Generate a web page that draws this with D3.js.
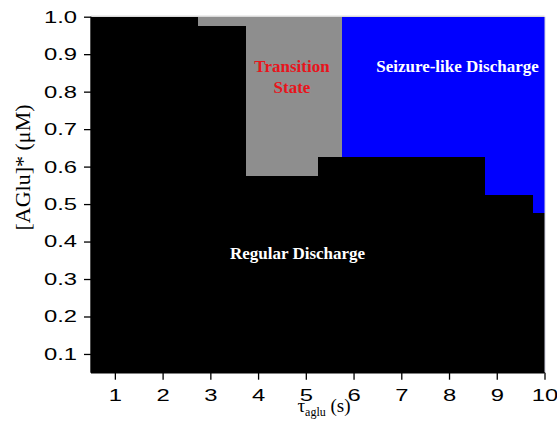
<!DOCTYPE html>
<html>
<head>
<meta charset="utf-8">
<script src="https://cdn.jsdelivr.net/npm/d3@7"></script>
<style>
  body { margin: 0; background: #fff; }
  svg { display: block; }
</style>
</head>
<body>
<div id="chart"></div>
<script>
// tau_aglu values (s), one column of the phase grid each
var tau = [0.5, 1, 1.5, 2, 2.5, 3, 3.5, 4, 4.5, 5, 5.5, 6, 6.5, 7, 7.5, 8, 8.5, 9, 9.5, 10];
// upper limit of regular discharge for each column ([AGlu]*, uM)
var regularTop = [1, 1, 1, 1, 1, 0.975, 0.975, 0.575, 0.575, 0.575, 0.625,
                  0.625, 0.625, 0.625, 0.625, 0.625, 0.625, 0.525, 0.525, 0.475];
// state found above that limit
var upperState = ["none", "none", "none", "none", "none", "transition", "transition",
                  "transition", "transition", "transition", "transition",
                  "seizure", "seizure", "seizure", "seizure", "seizure", "seizure",
                  "seizure", "seizure", "seizure"];
var xTicks = [1, 2, 3, 4, 5, 6, 7, 8, 9, 10];
var yTicks = [0.1, 0.2, 0.3, 0.4, 0.5, 0.6, 0.7, 0.8, 0.9, 1.0];

var width = 557, height = 437;
var svg = d3.select("#chart").append("svg")
    .attr("width", width)
    .attr("height", height);

var x = d3.scaleLinear().domain([0.5, 10]).range([91, 544.5]);
var y = d3.scaleLinear().domain([0.05, 1.0]).range([372.7, 16.7]);

var colors = { regular: "#000000", transition: "#8e8e8e", seizure: "#0000ff" };

var cells = tau.map(function(t, i) {
    return { x0: Math.max(t - 0.25, 0.5), x1: Math.min(t + 0.25, 10),
             top: regularTop[i], state: upperState[i] };
});

var plot = svg.append("g").attr("shape-rendering", "crispEdges");

// regular discharge part
plot.selectAll("rect.reg").data(cells).enter().append("rect")
    .attr("class", "reg")
    .attr("x", function(d) { return x(d.x0); })
    .attr("width", function(d) { return x(d.x1) - x(d.x0); })
    .attr("y", function(d) { return y(d.top); })
    .attr("height", function(d) { return y(0.05) - y(d.top); })
    .attr("fill", colors.regular);

// transition / seizure part
plot.selectAll("rect.up").data(cells.filter(function(d) { return d.state !== "none"; }))
    .enter().append("rect")
    .attr("class", "up")
    .attr("x", function(d) { return x(d.x0); })
    .attr("width", function(d) { return x(d.x1) - x(d.x0); })
    .attr("y", y(1.0))
    .attr("height", function(d) { return y(d.top) - y(1.0); })
    .attr("fill", function(d) { return colors[d.state]; });

// light frame top / right
svg.append("line").attr("x1", x(0.5)).attr("x2", x(10)).attr("y1", y(1) - 0.5).attr("y2", y(1) - 0.5)
    .attr("stroke", "#c8c8c8").attr("stroke-width", 1);
svg.append("line").attr("x1", x(10) + 0.5).attr("x2", x(10) + 0.5).attr("y1", y(1)).attr("y2", y(0.05))
    .attr("stroke", "#d0d0e0").attr("stroke-width", 1);

// axes
var tickFont = "'Liberation Sans', Arial, sans-serif";
var xMinor = d3.range(0.5, 10, 1);
var yMinor = d3.range(0.05, 1.0, 0.1);

var xAxis = svg.append("g").attr("transform", "translate(0," + y(0.05) + ")");
xAxis.call(d3.axisBottom(x).tickValues(xMinor).tickSize(4).tickFormat(""));
xAxis.call(d3.axisBottom(x).tickValues(xTicks).tickSize(7).tickFormat(d3.format("d")));
var yAxis = svg.append("g").attr("transform", "translate(" + x(0.5) + ",0)");
yAxis.call(d3.axisLeft(y).tickValues(yMinor).tickSize(4).tickFormat(""));
yAxis.call(d3.axisLeft(y).tickValues(yTicks).tickSize(7).tickFormat(d3.format(".1f")));

xAxis.selectAll(".domain").remove();
yAxis.selectAll(".domain").remove();
svg.append("line").attr("x1", x(0.5)).attr("x2", x(10)).attr("y1", y(0.05)).attr("y2", y(0.05))
    .attr("stroke", "#000").attr("stroke-width", 1.4);
svg.append("line").attr("x1", x(0.5)).attr("x2", x(0.5)).attr("y1", y(1)).attr("y2", y(0.05))
    .attr("stroke", "#000").attr("stroke-width", 1.4);

svg.selectAll(".tick line").attr("stroke", "#000").attr("stroke-width", 1.3);
xAxis.selectAll(".tick text")
    .attr("y", 28).attr("dy", null)
    .attr("transform", "scale(1.4,1)")
    .style("font-family", tickFont).style("font-size", "17px").attr("fill", "#000");
yAxis.selectAll(".tick text")
    .attr("x", -10)
    .attr("transform", "scale(1.4,1)")
    .style("font-family", tickFont).style("font-size", "17px").attr("fill", "#000");

// region labels
var serif = "'Liberation Serif', 'Times New Roman', serif";
function label(txt, cx, cy, color) {
    svg.append("text").attr("x", cx).attr("y", cy)
        .attr("text-anchor", "middle")
        .style("font-family", serif).style("font-size", "17px").style("font-weight", "bold")
        .attr("fill", color).text(txt);
}
label("Transition", 292, 72, "#e8141c");
label("State", 292, 93, "#e8141c");
label("Seizure-like Discharge", 457.5, 72, "#ffffff");
label("Regular Discharge", 297.5, 259, "#ffffff");

// axis titles
var xt = svg.append("text").attr("x", 324).attr("y", 412)
    .attr("text-anchor", "middle")
    .style("font-family", serif).style("font-size", "19px").attr("fill", "#000");
xt.append("tspan").text("τ");
xt.append("tspan").attr("dy", 4).style("font-size", "12px").text("aglu");
xt.append("tspan").attr("dy", -4).text(" (s)");

svg.append("text")
    .attr("transform", "translate(30,167.5) rotate(-90)")
    .attr("text-anchor", "middle")
    .style("font-family", serif).style("font-size", "22px").attr("fill", "#000")
    .text("[AGlu]* (μM)");
</script>
</body>
</html>
